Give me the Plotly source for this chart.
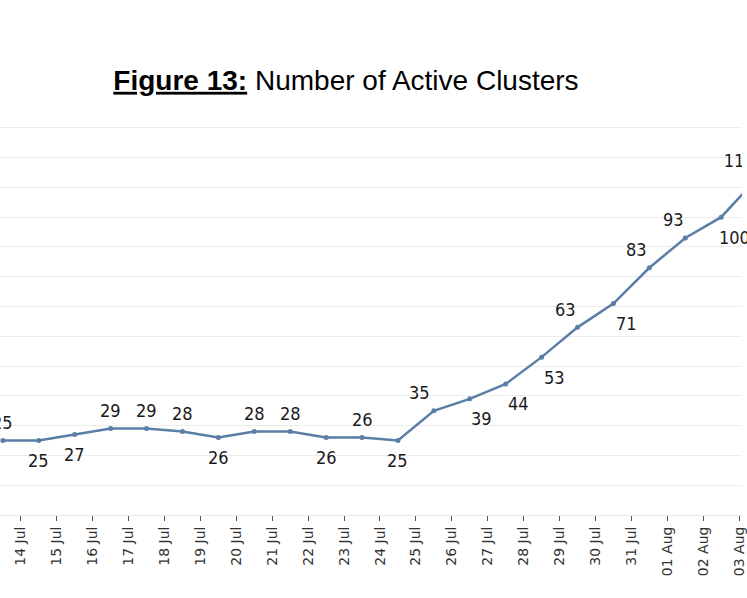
import plotly.graph_objects as go

# one point per day, 13 Jul to 03 Aug
dates = ["13 Jul", "14 Jul", "15 Jul", "16 Jul", "17 Jul", "18 Jul", "19 Jul",
         "20 Jul", "21 Jul", "22 Jul", "23 Jul", "24 Jul", "25 Jul", "26 Jul",
         "27 Jul", "28 Jul", "29 Jul", "30 Jul", "31 Jul", "01 Aug", "02 Aug",
         "03 Aug"]
active_clusters = [25, 25, 27, 29, 29, 28, 26, 28, 28, 26, 26, 25, 35, 39,
                   44, 53, 63, 71, 83, 93, 100, 113]

# where each value label sits (above / below) and its sideways nudge in px
label_side = ["top", "bottom", "bottom", "top", "top", "top", "bottom", "top",
              "top", "bottom", "top", "bottom", "top", "bottom", "bottom",
              "bottom", "top", "bottom", "top", "top", "bottom", "top"]
label_nudge = [0, 0, 0, 0, 0, 0, 0, 0, 0, 0, 0, 0, -14, 12, 13, 13, -12, 13,
               -13, -12, 13, 0]

idx = list(range(len(dates)))
line_col = "#5a7ea7"
label_font = dict(family="DejaVu Sans Condensed", size=18, color="#1a1a1a")
x_range = [-0.08, 20.58]

fig = go.Figure()
fig.add_trace(go.Scatter(
    x=idx,
    y=active_clusters,
    mode="lines+markers",
    line=dict(color=line_col, width=2.5),
    marker=dict(color=line_col, size=5),
    showlegend=False,
))

# value labels for points inside the visible range
for i, v, side, dx in zip(idx, active_clusters, label_side, label_nudge):
    if i > x_range[1]:
        continue
    fig.add_annotation(
        x=i, y=v, text=str(v), showarrow=False,
        yanchor="middle", xanchor="center",
        xshift=dx, yshift=18 if side == "top" else -20,
        font=label_font,
    )

# the last point sits past the right edge; its label only peeks in
# (trace text, clipped by the plot area at the window edge; the trailing
# spaces pull the digits to the left of the point)
last = [i for i in idx if i > x_range[1]]
fig.add_trace(go.Scatter(
    x=last,
    y=[active_clusters[i] for i in last],
    mode="markers+text",
    text=[str(active_clusters[i]) + "\u00a0" * 7 for i in last],
    textposition="top center",
    textfont=label_font,
    marker=dict(size=10, opacity=0),
    cliponaxis=True,
    hoverinfo="skip",
    showlegend=False,
))

fig.update_layout(
    width=747,
    height=598,
    margin=dict(l=0, r=0, t=98, b=83),
    plot_bgcolor="white",
    paper_bgcolor="white",
    title=dict(
        text="<b><u>Figure 13:</u></b> Number of Active Clusters",
        font=dict(family="Liberation Sans", size=28, color="black"),
        x=346 / 747, xanchor="center",
        y=1 - 80 / 598, yanchor="middle",
    ),
)
fig.update_xaxes(
    range=x_range,
    tickvals=[i - 0.5 for i in idx],
    ticktext=dates,
    tickangle=-90,
    ticks="outside", ticklen=5, tickcolor="#555555",
    tickfont=dict(family="DejaVu Sans", size=14, color="#333333"),
    ticklabeloverflow="allow",
    showgrid=False, zeroline=False, showline=False,
)
fig.update_yaxes(
    range=[0, 140],
    dtick=10,
    showticklabels=False,
    gridcolor="#ececec", gridwidth=1,
    zeroline=True, zerolinecolor="#e6e6e6", zerolinewidth=1,
    showline=False,
)

# drop the page's default body margin so the chart fills the window
fig.write_html("out.html", config={"displayModeBar": False},
               post_script="document.body.style.margin='0';")
